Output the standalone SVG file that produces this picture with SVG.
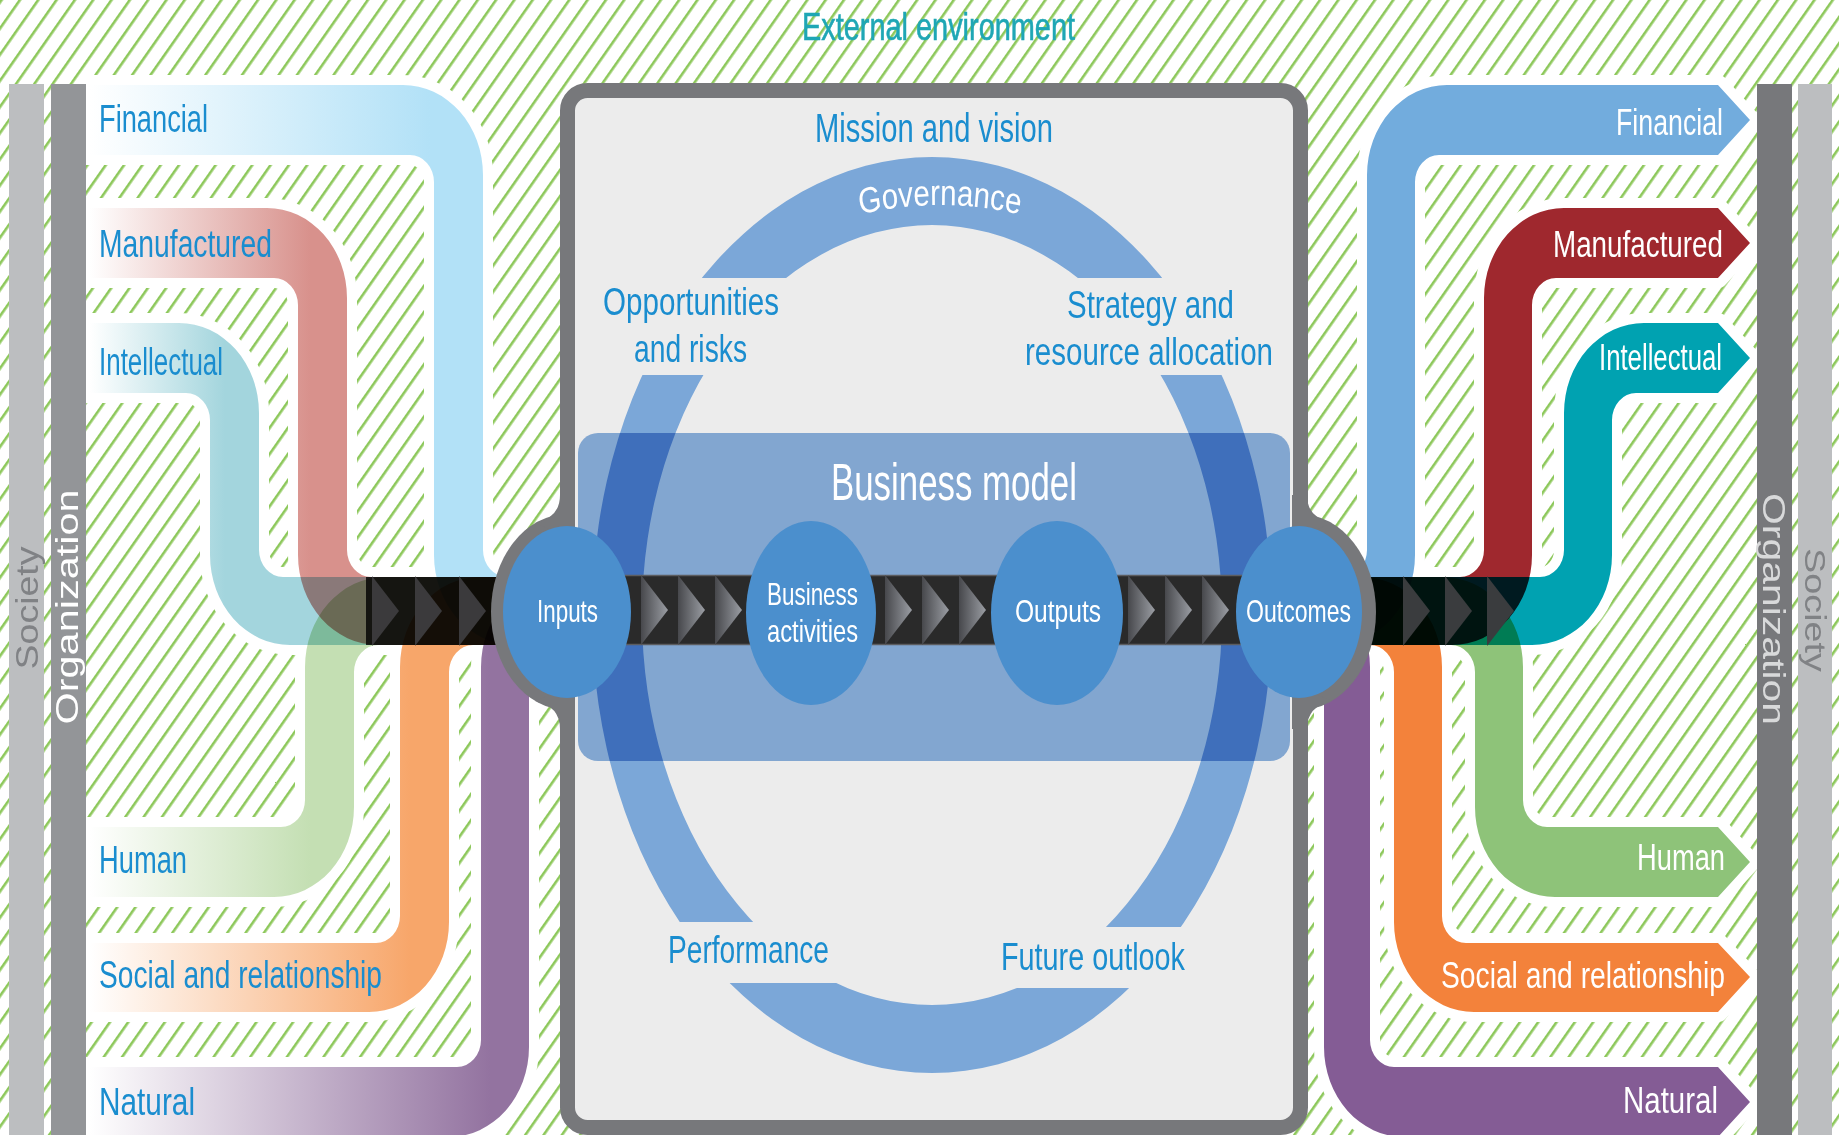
<svg xmlns="http://www.w3.org/2000/svg" xmlns:xlink="http://www.w3.org/1999/xlink" width="1839" height="1135" viewBox="0 0 1839 1135">
<style>
.lbl{font-family:"Liberation Sans",Arial,sans-serif;fill:#1a8dcf}
.wl{font-family:"Liberation Sans",Arial,sans-serif;fill:#ffffff}
.m{mix-blend-mode:multiply}
.halo{fill:#ffffff;stroke:#ffffff;stroke-width:20;stroke-linejoin:round}
</style>
<defs>
<pattern id="hatch" width="15" height="20" patternUnits="userSpaceOnUse" patternTransform="rotate(35)">
<rect width="15" height="20" fill="#ffffff"/>
<rect x="0" y="0" width="2.6" height="20" fill="#8dc85b"/>
</pattern>
<linearGradient id="gFinL" gradientUnits="userSpaceOnUse" x1="90" y1="0" x2="430" y2="0"><stop offset="0" stop-color="#ffffff"/><stop offset="1" stop-color="#b2e1f7"/></linearGradient>
<linearGradient id="gManL" gradientUnits="userSpaceOnUse" x1="90" y1="0" x2="310" y2="0"><stop offset="0" stop-color="#ffffff"/><stop offset="1" stop-color="#d8918c"/></linearGradient>
<linearGradient id="gIntL" gradientUnits="userSpaceOnUse" x1="90" y1="0" x2="225" y2="0"><stop offset="0" stop-color="#ffffff"/><stop offset="1" stop-color="#a3d5dd"/></linearGradient>
<linearGradient id="gHumL" gradientUnits="userSpaceOnUse" x1="90" y1="0" x2="310" y2="0"><stop offset="0" stop-color="#ffffff"/><stop offset="1" stop-color="#c4dfb3"/></linearGradient>
<linearGradient id="gSocL" gradientUnits="userSpaceOnUse" x1="90" y1="0" x2="410" y2="0"><stop offset="0" stop-color="#ffffff"/><stop offset="1" stop-color="#f7a66a"/></linearGradient>
<linearGradient id="gNatL" gradientUnits="userSpaceOnUse" x1="90" y1="0" x2="490" y2="0"><stop offset="0" stop-color="#ffffff"/><stop offset="1" stop-color="#9373a0"/></linearGradient>
<linearGradient id="chevGrad" x1="0" y1="0" x2="1" y2="0"><stop offset="0" stop-color="#47484c"/><stop offset="1" stop-color="#9a9da3"/></linearGradient>
<polygon id="chev" points="0,0 27,35 0,70"/>
<path id="ringShape" fill-rule="evenodd" d="M592,615 a340,458 0 1,0 680,0 a340,458 0 1,0 -680,0 Z M642,615 a290,390 0 1,0 580,0 a290,390 0 1,0 -580,0 Z"/>
<clipPath id="ringKeep">
<rect x="0" y="0" width="1839" height="278"/>
<rect x="0" y="375" width="932" height="547"/>
<rect x="932" y="375" width="907" height="552"/>
<rect x="0" y="983" width="932" height="200"/>
<rect x="932" y="988" width="907" height="200"/>
</clipPath>
<clipPath id="boxClip"><rect x="578" y="433" width="712" height="328" rx="20"/></clipPath>
<clipPath id="inClip"><rect x="0" y="0" width="575" height="1135"/></clipPath>
<clipPath id="outClip"><rect x="1293" y="0" width="546" height="1135"/></clipPath>
<path id="govPath" d="M830,217 Q940,193 1050,217"/>
<path id="pFinL" d="M86 85 H403 A80 90 0 0 1 483 175 V550 A24 27 0 0 0 507 577 H565 V645 H514 A80 90 0 0 1 434 555 V182 A24 27 0 0 0 410 155 H86 Z"/>
<path id="pManL" d="M86 208 H267 A80 90 0 0 1 347 298 V550 A24 27 0 0 0 371 577 H565 V645 H378 A80 90 0 0 1 298 555 V305 A24 27 0 0 0 274 278 H86 Z"/>
<path id="pIntL" d="M86 323 H179 A80 90 0 0 1 259 413 V550 A24 27 0 0 0 283 577 H565 V645 H290 A80 90 0 0 1 210 555 V420 A24 27 0 0 0 186 393 H86 Z"/>
<path id="pHumL" d="M86 827 H281 A24 27 0 0 0 305 800 V667 A80 90 0 0 1 385 577 H565 V645 H378 A24 27 0 0 0 354 672 V807 A80 90 0 0 1 274 897 H86 Z"/>
<path id="pSocL" d="M86 943 H376 A24 27 0 0 0 400 916 V667 A80 90 0 0 1 480 577 H565 V645 H473 A24 27 0 0 0 449 672 V922 A80 90 0 0 1 369 1012 H86 Z"/>
<path id="pNatL" d="M86 1067 H457 A24 27 0 0 0 481 1040 V667 A80 90 0 0 1 561 577 H565 V645 H553 A24 27 0 0 0 529 672 V1047 A80 90 0 0 1 449 1137 H86 Z"/>
<path id="pFinR" d="M1300 577 H1343 A24 27 0 0 0 1367 550 V175 A80 90 0 0 1 1447 85 H1718 L1750 120 L1718 155 H1439 A24 27 0 0 0 1415 182 V555 A80 90 0 0 1 1335 645 H1300 Z"/>
<path id="pManR" d="M1300 577 H1460 A24 27 0 0 0 1484 550 V298 A80 90 0 0 1 1564 208 H1718 L1750 243 L1718 278 H1556 A24 27 0 0 0 1532 305 V555 A80 90 0 0 1 1452 645 H1300 Z"/>
<path id="pIntR" d="M1300 577 H1540 A24 27 0 0 0 1564 550 V413 A80 90 0 0 1 1644 323 H1718 L1750 358 L1718 393 H1636 A24 27 0 0 0 1612 420 V555 A80 90 0 0 1 1532 645 H1300 Z"/>
<path id="pHumR" d="M1300 577 H1443 A80 90 0 0 1 1523 667 V800 A24 27 0 0 0 1547 827 H1718 L1750 862 L1718 897 H1555 A80 90 0 0 1 1475 807 V672 A24 27 0 0 0 1451 645 H1300 Z"/>
<path id="pSocR" d="M1300 577 H1362 A80 90 0 0 1 1442 667 V916 A24 27 0 0 0 1466 943 H1718 L1750 977 L1718 1012 H1474 A80 90 0 0 1 1394 922 V672 A24 27 0 0 0 1370 645 H1300 Z"/>
<path id="pNatR" d="M1290 577 A80 90 0 0 1 1370 667 V1040 A24 27 0 0 0 1394 1067 H1718 L1750 1102 L1718 1137 H1404 A80 90 0 0 1 1324 1047 V672 A24 27 0 0 0 1300 645 H1290 Z"/>
</defs>

<rect id="background" x="0" y="0" width="1839" height="1135" fill="url(#hatch)"/>

<g id="connectors">
<g id="halos" class="halo">
<use href="#pFinL"/><use href="#pManL"/><use href="#pIntL"/><use href="#pHumL"/><use href="#pSocL"/><use href="#pNatL"/>
<use href="#pFinR"/><use href="#pManR"/><use href="#pIntR"/><use href="#pHumR"/><use href="#pSocR"/><use href="#pNatR"/>
</g>
<g id="capitals-in">
<use href="#pFinL" class="m" fill="url(#gFinL)"/>
<use href="#pManL" class="m" fill="url(#gManL)"/>
<use href="#pIntL" class="m" fill="url(#gIntL)"/>
<use href="#pHumL" class="m" fill="url(#gHumL)"/>
<use href="#pSocL" class="m" fill="url(#gSocL)"/>
<use href="#pNatL" class="m" fill="url(#gNatL)"/>
<rect x="366" y="577" width="200" height="68" fill="#000000" fill-opacity="0.8"/>
<use href="#chev" x="372" y="576" fill="#3b3a3c"/>
<use href="#chev" x="415" y="576" fill="#3b3a3c"/>
<use href="#chev" x="459" y="576" fill="#3b3a3c"/>
</g>
<g id="capitals-out">
<use href="#pFinR" class="m" fill="#72acdd"/>
<use href="#pManR" class="m" fill="#9f282e"/>
<use href="#pIntR" class="m" fill="#00a2b1"/>
<use href="#pHumR" class="m" fill="#8ec379"/>
<use href="#pSocR" class="m" fill="#f3823b"/>
<use href="#pNatR" class="m" fill="#845c95"/>
<use href="#chev" x="1403" y="576" fill="#3a3c3e"/>
<use href="#chev" x="1445" y="576" fill="#3a3c3e"/>
<use href="#chev" x="1487" y="576" fill="#3a3c3e"/>
</g>
</g>

<g id="bars">
<rect x="9" y="84" width="35" height="1051" fill="#bcbec0"/>
<rect x="51" y="84" width="35" height="1051" fill="#939598"/>
<rect x="1757" y="84" width="35" height="1051" fill="#77787b"/>
<rect x="1798" y="84" width="34" height="1051" fill="#bcbec0"/>
<text transform="translate(38,608) rotate(-90) scale(1,0.7)" text-anchor="middle" font-family="Liberation Sans,Arial,sans-serif" font-size="44" textLength="123" lengthAdjust="spacingAndGlyphs" fill="#808285">Society</text>
<text transform="translate(78,607) rotate(-90) scale(1,0.7)" text-anchor="middle" font-family="Liberation Sans,Arial,sans-serif" font-size="46" textLength="235" lengthAdjust="spacingAndGlyphs" fill="#ffffff">Organization</text>
<text transform="translate(1763,609) rotate(90) scale(1,0.7)" text-anchor="middle" font-family="Liberation Sans,Arial,sans-serif" font-size="44" textLength="232" lengthAdjust="spacingAndGlyphs" fill="#d8d9da">Organization</text>
<text transform="translate(1805,610) rotate(90) scale(1,0.7)" text-anchor="middle" font-family="Liberation Sans,Arial,sans-serif" font-size="42" textLength="124" lengthAdjust="spacingAndGlyphs" fill="#808285">Society</text>
</g>

<g id="organization-frame">
<rect x="567.5" y="90.5" width="733" height="1037" rx="20" fill="#ececec" stroke="#77787b" stroke-width="15"/>
<use href="#ringShape" fill="#7ba7d8" clip-path="url(#ringKeep)"/>
<rect id="business-model-box" x="578" y="433" width="712" height="328" rx="20" fill="#82a6d0"/>
<g clip-path="url(#boxClip)"><use href="#ringShape" fill="#3f6fbb" clip-path="url(#ringKeep)"/></g>
<rect x="620" y="575" width="630" height="70" fill="#2a2a2a"/>
<line x1="620" y1="575.5" x2="1250" y2="575.5" stroke="#5c5d60" stroke-width="1.5"/>
<line x1="620" y1="644.5" x2="1250" y2="644.5" stroke="#5c5d60" stroke-width="1.5"/>
<use href="#chev" x="641" y="575" fill="url(#chevGrad)"/>
<use href="#chev" x="678" y="575" fill="url(#chevGrad)"/>
<use href="#chev" x="715" y="575" fill="url(#chevGrad)"/>
<use href="#chev" x="885" y="575" fill="url(#chevGrad)"/>
<use href="#chev" x="922" y="575" fill="url(#chevGrad)"/>
<use href="#chev" x="959" y="575" fill="url(#chevGrad)"/>
<use href="#chev" x="1128" y="575" fill="url(#chevGrad)"/>
<use href="#chev" x="1165" y="575" fill="url(#chevGrad)"/>
<use href="#chev" x="1202" y="575" fill="url(#chevGrad)"/>
</g>

<g id="node-inputs">
<ellipse cx="567" cy="612" rx="76" ry="98" fill="#77787b" clip-path="url(#inClip)"/>
<path d="M560,495 Q560,518 535,523 L575,540 L575,495 Z" fill="#77787b"/>
<path d="M560,729 Q560,706 535,701 L575,684 L575,729 Z" fill="#77787b"/>
<ellipse cx="567" cy="612" rx="64" ry="86" fill="#4b8fcd"/>
<text class="wl" x="537" y="622" font-size="32" textLength="61" lengthAdjust="spacingAndGlyphs">Inputs</text>
</g>
<g id="node-business-activities">
<ellipse cx="811" cy="613" rx="65" ry="92" fill="#4b8fcd"/>
<text class="wl" x="767" y="605" font-size="32" textLength="91" lengthAdjust="spacingAndGlyphs">Business</text>
<text class="wl" x="767" y="642" font-size="32" textLength="91" lengthAdjust="spacingAndGlyphs">activities</text>
</g>
<g id="node-outputs">
<ellipse cx="1057" cy="613" rx="66" ry="92" fill="#4b8fcd"/>
<text class="wl" x="1015" y="622" font-size="32" textLength="86" lengthAdjust="spacingAndGlyphs">Outputs</text>
</g>
<g id="node-outcomes">
<ellipse cx="1300" cy="612" rx="76" ry="98" fill="#77787b" clip-path="url(#outClip)"/>
<path d="M1307,495 Q1307,518 1332,523 L1292,540 L1292,495 Z" fill="#77787b"/>
<path d="M1307,729 Q1307,706 1332,701 L1292,684 L1292,729 Z" fill="#77787b"/>
<ellipse cx="1299" cy="612" rx="63" ry="86" fill="#4b8fcd"/>
<text class="wl" x="1246" y="622" font-size="32" textLength="105" lengthAdjust="spacingAndGlyphs">Outcomes</text>
</g>

<g id="labels-center">
<text x="802" y="40" font-family="Liberation Sans,Arial,sans-serif" font-size="38" fill="#1fa7b5" stroke="#1fa7b5" stroke-width="0.6" textLength="273" lengthAdjust="spacingAndGlyphs">External environment</text>
<text class="lbl" x="815" y="142" font-size="40" textLength="238" lengthAdjust="spacingAndGlyphs">Mission and vision</text>
<text class="wl" font-size="36" transform="translate(940,0) scale(0.82,1) translate(-940,0)"><textPath href="#govPath" startOffset="50%" text-anchor="middle">Governance</textPath></text>
<text class="lbl" x="603" y="315" font-size="38" textLength="176" lengthAdjust="spacingAndGlyphs">Opportunities</text>
<text class="lbl" x="634" y="362" font-size="38" textLength="113" lengthAdjust="spacingAndGlyphs">and risks</text>
<text class="lbl" x="1067" y="318" font-size="38" textLength="167" lengthAdjust="spacingAndGlyphs">Strategy and</text>
<text class="lbl" x="1025" y="365" font-size="38" textLength="248" lengthAdjust="spacingAndGlyphs">resource allocation</text>
<text class="wl" x="831" y="500" font-size="52" textLength="246" lengthAdjust="spacingAndGlyphs">Business model</text>
<text class="lbl" x="668" y="963" font-size="38" textLength="161" lengthAdjust="spacingAndGlyphs">Performance</text>
<text class="lbl" x="1001" y="970" font-size="38" textLength="184" lengthAdjust="spacingAndGlyphs">Future outlook</text>
</g>

<g id="labels-inputs">
<text class="lbl" x="99" y="132" font-size="38" textLength="109" lengthAdjust="spacingAndGlyphs">Financial</text>
<text class="lbl" x="99" y="257" font-size="38" textLength="173" lengthAdjust="spacingAndGlyphs">Manufactured</text>
<text class="lbl" x="99" y="375" font-size="38" textLength="124" lengthAdjust="spacingAndGlyphs">Intellectual</text>
<text class="lbl" x="99" y="873" font-size="38" textLength="88" lengthAdjust="spacingAndGlyphs">Human</text>
<text class="lbl" x="99" y="988" font-size="38" textLength="283" lengthAdjust="spacingAndGlyphs">Social and relationship</text>
<text class="lbl" x="99" y="1115" font-size="38" textLength="96" lengthAdjust="spacingAndGlyphs">Natural</text>
</g>
<g id="labels-outcomes">
<text class="wl" x="1616" y="135" font-size="36" textLength="107" lengthAdjust="spacingAndGlyphs">Financial</text>
<text class="wl" x="1553" y="257" font-size="36" textLength="170" lengthAdjust="spacingAndGlyphs">Manufactured</text>
<text class="wl" x="1599" y="370" font-size="36" textLength="123" lengthAdjust="spacingAndGlyphs">Intellectual</text>
<text class="wl" x="1637" y="870" font-size="36" textLength="88" lengthAdjust="spacingAndGlyphs">Human</text>
<text class="wl" x="1441" y="988" font-size="36" textLength="284" lengthAdjust="spacingAndGlyphs">Social and relationship</text>
<text class="wl" x="1623" y="1113" font-size="36" textLength="95" lengthAdjust="spacingAndGlyphs">Natural</text>
</g>
</svg>
